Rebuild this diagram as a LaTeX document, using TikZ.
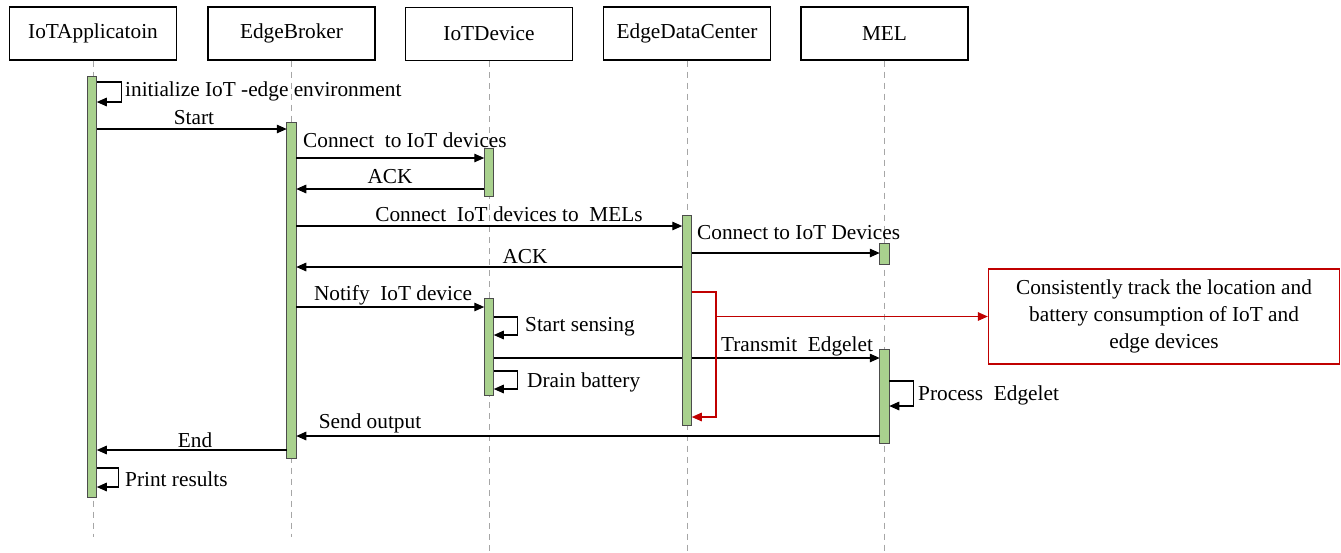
\documentclass[tikz,border=0pt]{standalone}
\usepackage{fontspec}
\setmainfont{Liberation Serif}
\usetikzlibrary{arrows.meta}
\definecolor{actgreen}{HTML}{A9D18E}
\definecolor{notered}{HTML}{C00000}
\pgfdeclarelayer{back}
\pgfsetlayers{back,main}
\begin{document}
\begin{tikzpicture}[x=1pt,y=-1pt,>={Triangle[length=10pt,width=8.5pt]},
	font=\fontsize{21.3}{27}\selectfont,
	head/.style={draw,line width=1.3pt,minimum width=167pt,minimum height=53pt,inner sep=0pt},
	life/.style={draw=gray!70,line width=1pt,dash pattern=on 6pt off 5pt},
	bar/.style={draw=black!70,fill=actgreen,line width=0.8pt,minimum width=9.5pt,inner sep=0pt,outer sep=0pt,anchor=north},
	msg/.style={->,line width=1.4pt},
	lbl/.style={inner sep=0pt}]
	\useasboundingbox (0,0) rectangle (1341,552);
	% heads and lifelines
	\node[head] (app) at (93,33.5) {IoTApplicatoin};
	\node[head] (brk) at (291.5,33.5) {EdgeBroker};
	\node[head] (dev) at (489,34) {IoTDevice};
	\node[head] (edc) at (687,33.5) {EdgeDataCenter};
	\node[head] (mel) at (884.5,33.5) {MEL};
	\coordinate (endA) at (0,537);
	\coordinate (endB) at (0,552);
	\foreach \n/\e in {app/endA,brk/endA,dev/endB,edc/endB,mel/endB}
		\draw[life] (\n.south) -- (\n.south |- \e);
	% activations
	\node[bar,minimum height=421pt] (appbar) at (92,76) {};
	\node[bar,minimum height=336pt] (brkbar) at (291.5,122) {};
	\node[bar,minimum height=48pt] (devbarA) at (489,148) {};
	\node[bar,minimum height=97pt] (devbarB) at (489,298) {};
	\node[bar,minimum height=210pt] (edcbar) at (687,215) {};
	\node[bar,minimum height=21pt] (melbarA) at (884.5,243) {};
	\node[bar,minimum height=94pt] (melbarB) at (884.5,349) {};
	% messages
	\draw[msg] (appbar.east |- 0,82) -- ++(25,0) |- (appbar.east |- 0,102);
	\node[lbl,anchor=west] (linit) at (125,91) {initialize IoT -edge environment};
	\draw[msg] (appbar.east |- 0,129) -- (brkbar.west |- 0,129);
	\node[lbl] (lstart) at (194,118) {Start};
	\draw[msg] (brkbar.east |- 0,158) -- (devbarA.west |- 0,158);
	\node[lbl,anchor=west] (lconn) at (303,140) {Connect\ \ to IoT devices};
	\draw[msg] (devbarA.west |- 0,189) -- (brkbar.east |- 0,189);
	\node[lbl] (lackA) at (390,177) {ACK};
	\draw[msg] (brkbar.east |- 0,226) -- (edcbar.west |- 0,226);
	\node[lbl] (lmels) at (509,214) {Connect\ \ IoT devices to\ \ MELs};
	\draw[msg] (edcbar.east |- 0,253) -- (melbarA.west |- 0,253);
	\node[lbl,anchor=west] (lconnB) at (697,233) {Connect to IoT Devices};
	\draw[msg] (edcbar.west |- 0,267) -- (brkbar.east |- 0,267);
	\node[lbl] (lackB) at (525,257) {ACK};
	\draw[msg] (brkbar.east |- 0,307) -- (devbarB.west |- 0,307);
	\node[lbl] (lnotify) at (393,295) {Notify\ \ IoT device};
	\draw[msg] (devbarB.east |- 0,317) -- ++(24,0) |- (devbarB.east |- 0,335);
	\node[lbl,anchor=west] (lsense) at (525,327) {Start sensing};
	\begin{pgfonlayer}{back}
		\draw[msg] (devbarB.east |- 0,358) -- (melbarB.west |- 0,358);
	\end{pgfonlayer}
	\node[lbl] (ltrans) at (797,346) {Transmit\ \ Edgelet};
	\draw[msg] (devbarB.east |- 0,371) -- ++(24,0) |- (devbarB.east |- 0,389);
	\node[lbl,anchor=west] (ldrain) at (527,382) {Drain battery};
	\draw[msg] (melbarB.east |- 0,381) -- ++(24,0) |- (melbarB.east |- 0,406);
	\node[lbl,anchor=west] (lproc) at (918,395) {Process\ \ Edgelet};
	\draw[msg] (melbarB.west |- 0,436) -- (brkbar.east |- 0,436);
	\node[lbl] (lsend) at (370,423) {Send output};
	\draw[msg] (brkbar.west |- 0,450) -- (appbar.east |- 0,450);
	\node[lbl] (lend) at (195,440) {End};
	\draw[msg] (appbar.east |- 0,468) -- ++(22,0) |- (appbar.east |- 0,487);
	\node[lbl,anchor=west] (lprint) at (125,479) {Print results};
	% note
	\node[draw=notered,line width=1.3pt,minimum width=351pt,minimum height=95pt,align=center,inner sep=0pt] (note) at (1164,316.5)
		{Consistently track the location and\\battery consumption of IoT and\\edge devices};
	\coordinate (tap) at (716,316.5);
	\draw[->,notered,line width=1.4pt] (edcbar.east |- 0,292) -| (716,417) -- (edcbar.east |- 0,417);
	\draw[->,notered,line width=1.3pt] (tap) -- (note.west);
\end{tikzpicture}
\end{document}
